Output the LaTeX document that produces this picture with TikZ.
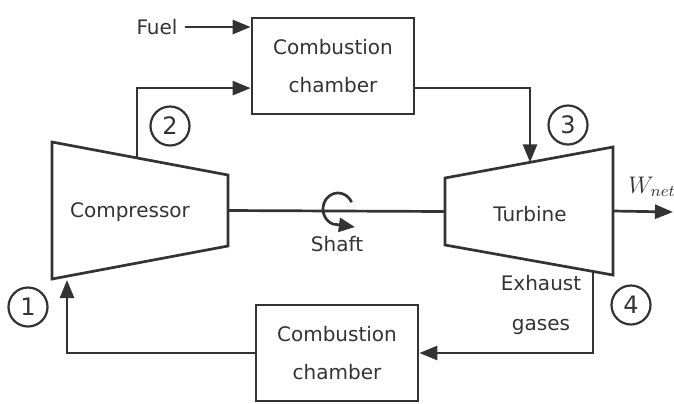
\documentclass[tikz,border=0pt]{standalone}
\usepackage{fontspec}
\setmainfont{DejaVu Sans}
\usetikzlibrary{calc,arrows.meta}

\tikzset{
  flow/.style={-{Triangle[length=9pt,width=7pt]}},
  chamber/.style={draw, minimum width=81pt, minimum height=48pt, align=center,
    font=\fontsize{10}{19}\selectfont},
  num/.style={draw, circle, line width=1.1pt, minimum size=19.5pt, inner sep=0pt,
    font=\fontsize{12}{14}\selectfont}
}

\begin{document}
\begin{tikzpicture}[x=0.5pt,y=-0.5pt,line width=1.35pt,color=black!80]
    \useasboundingbox (0,0) rectangle (674,403);
    % chambers
    \node[chamber] (cctop) at (333,66) {Combustion\\chamber};
    \node[chamber] (ccbot) at (337,353) {Combustion\\chamber};
    % compressor
    \coordinate (ctl) at (52,142);
    \coordinate (ctr) at (228,175);
    \coordinate (cbr) at (228,246);
    \coordinate (cbl) at (52,279);
    \draw (ctl) -- (ctr) -- (cbr) -- (cbl) -- cycle;
    \node (comp) at (130,212) {Compressor};
    % turbine
    \coordinate (ttl) at (445,178);
    \coordinate (ttr) at (613,147);
    \coordinate (tbr) at (613,275);
    \coordinate (tbl) at (445,245);
    \draw (ttl) -- (ttr) -- (tbr) -- (tbl) -- cycle;
    \node (turb) at (530,214) {Turbine};
    % ports
    \coordinate (p1) at (67,280);
    \coordinate (p2) at ($(ctl)!0.483!(ctr)$);
    \coordinate (p3) at ($(ttl)!0.506!(ttr)$);
    \coordinate (p4) at ($(tbl)!0.881!(tbr)$);
    \coordinate (wout) at (673,212);
    % fuel
    \node (fuel) at (157,27) {Fuel};
    \draw[flow] (fuel.east) -- (fuel.east -| cctop.west);
    % flow loop
    \draw[flow] (p2) |- ($(cctop.south west)!0.276!(cctop.north west)$);
    \draw[flow] ($(cctop.south east)!0.276!(cctop.north east)$) -| (p3);
    \draw[flow] (p4) |- (ccbot.east);
    \draw[flow] (ccbot.west) -| (p1);
    % shaft
    \draw ($(ctr)!0.5!(cbr)$) -- ($(ttl)!0.5!(tbl)$);
    \draw[-{Triangle[length=8pt,width=7pt]}] ([shift={(25:7.5pt and 8pt)}]338,209)
      arc[start angle=25, end angle=250, x radius=7.5pt, y radius=8pt] -- ++(11pt,-1.5pt);
    \node (shaft) at (337,244) {Shaft};
    % work out
    \draw[flow] ($(ttr)!0.5!(tbr)$) -- (wout);
    \node[anchor=base west, inner sep=0pt, font=\fontsize{12}{14}\selectfont] (wnet) at (627,193) {$W_{net}$};
    % labels
    \node[align=center, font=\fontsize{10}{20}\selectfont] (exh) at (541,305) {Exhaust\\gases};
    \node[num] (n1) at (28,307) {1};
    \node[num] (n2) at (170,126) {2};
    \node[num] (n3) at (568,125) {3};
    \node[num] (n4) at (631,305) {4};
  \end{tikzpicture}
\end{document}
